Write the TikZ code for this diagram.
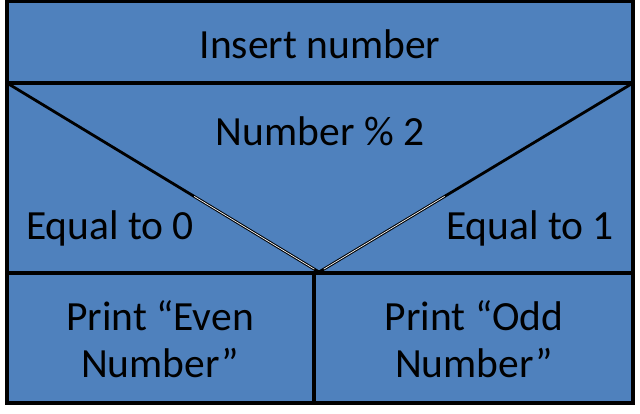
\documentclass[tikz,border=0pt]{standalone}
\usepackage{fontspec}
\setmainfont{Carlito}
\usetikzlibrary{calc}
\begin{document}
\begin{tikzpicture}[x=1pt,y=-1pt,
  box/.style={draw=black,line width=3pt,fill=nsblue},
  edge/.style={draw=black,line width=3.2pt},
  lbl/.style={font=\fontsize{41.5}{47}\selectfont,text=black,align=center,inner sep=0pt}]
\definecolor{nsblue}{HTML}{4F81BD}
\useasboundingbox (0,0) rectangle (640,413);
\fill[white] (0,0) rectangle (640,413);
\coordinate (tl) at (7,1);
\coordinate (br) at (633,403);
\coordinate (ml) at (7,83);
\coordinate (mr) at (633,83);
\coordinate (bl) at (7,273);
\coordinate (bri) at (633,273);
\coordinate (apex) at (319,272);
\coordinate (dt) at (314,273);
\coordinate (db) at (314,403);
\fill[nsblue] (tl) rectangle (br);
\draw[edge] (ml) -- (mr);
\draw[edge] (bl) -- (bri);
\draw[edge] (dt) -- (db);
\draw[edge,line width=2.8pt] (ml) -- (apex);
\draw[edge,line width=2.8pt] (mr) -- (apex);
\draw[white,line width=0.7pt] ($(ml)!0.6!(apex)$) -- ($(ml)!0.985!(apex)$);
\draw[white,line width=0.7pt] ($(mr)!0.6!(apex)$) -- ($(mr)!0.985!(apex)$);
\draw[edge] (tl) rectangle (br);
\node[lbl] (insert) at (320,44) {Insert number};
\node[lbl] (cond) at (320,131) {Number \% 2};
\node[lbl] (eq0) at (110,228) {Equal to 0};
\node[lbl] (eq1) at (530,228) {Equal to 1};
\node[lbl] (even) at (160,339) {Print “Even\\Number”};
\node[lbl] (odd) at (474,339) {Print “Odd\\Number”};
\end{tikzpicture}
\end{document}
